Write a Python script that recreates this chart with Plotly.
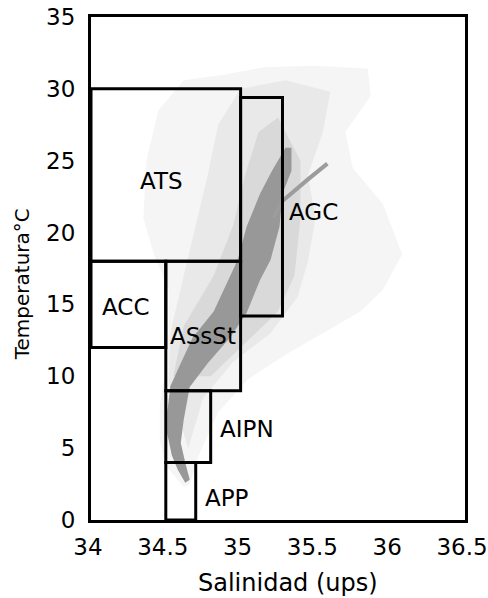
import plotly.graph_objects as go

# Water-mass boxes in T-S space
masses = ["ATS", "AGC", "ACC", "ASsSt", "AIPN", "APP"]
s_min = [34.0, 35.0, 34.0, 34.5, 34.5, 34.5]
s_max = [35.0, 35.28, 34.5, 35.0, 34.8, 34.7]
t_min = [18.0, 14.2, 12.0, 9.0, 4.0, 0.0]
t_max = [30.0, 29.4, 18.0, 18.0, 9.0, 4.0]
label_s = [34.47, 35.49, 34.23, 34.75, 35.04, 34.91]
label_t = [23.6, 21.4, 14.8, 12.8, 6.3, 1.5]

# Observed T-S cloud: outer sparse envelope
haze_out_s = [34.62, 34.50, 34.46, 34.46, 34.50, 34.52, 34.52, 34.42, 34.35, 34.37, 34.45, 34.62,
              34.90, 35.15, 35.50, 35.85, 35.87, 35.70, 35.75, 35.95, 36.08, 35.95, 35.80, 35.55,
              35.30, 35.05, 34.85, 34.72, 34.66]
haze_out_t = [2.3, 3.8, 5.5, 8.0, 10.5, 13.0, 16.0, 18.5, 21.0, 25.0, 28.5, 30.6,
              31.0, 31.5, 31.6, 31.4, 29.5, 27.0, 24.5, 22.0, 18.5, 16.0, 14.5, 13.0,
              11.5, 9.8, 7.5, 4.5, 2.5]

# denser envelope around the main branch
haze_mid_s = [34.52, 34.53, 34.62, 34.70, 34.78, 34.85, 35.00, 35.30, 35.60, 35.55, 35.45,
              35.50, 35.45, 35.38, 35.20, 34.95, 34.75, 34.65]
haze_mid_t = [9.5, 13.0, 17.0, 20.5, 24.0, 27.5, 30.0, 30.6, 29.8, 27.0, 24.0,
              21.0, 18.0, 15.5, 13.0, 11.0, 8.5, 5.0]

haze_in_s = [34.55, 34.62, 34.82, 34.95, 35.03, 35.12, 35.25, 35.40, 35.40, 35.36, 35.25,
             35.00, 34.80]
haze_in_t = [10.0, 13.5, 17.0, 20.5, 24.0, 27.0, 28.0, 25.0, 21.0, 17.0, 14.5,
             12.0, 10.0]

# dense core of the T-S relation
core_s = [34.63, 34.58, 34.54, 34.51, 34.51, 34.52, 34.53, 34.60, 34.68, 34.82, 34.92, 34.98,
          35.04, 35.13, 35.21, 35.30,
          35.34, 35.34, 35.28, 35.26, 35.20, 35.13, 35.04, 34.93, 34.78, 34.66, 34.62, 34.60,
          34.63, 34.66]
core_t = [2.6, 3.5, 4.5, 6.0, 7.5, 8.5, 9.3, 10.9, 12.7, 14.5, 16.7, 18.1,
          20.4, 22.7, 24.3, 25.9,
          25.9, 24.3, 22.7, 20.4, 18.1, 16.7, 14.4, 12.7, 10.9, 9.25, 7.0, 5.35,
          4.0, 2.8]

# secondary saline branch
branch_s = [35.22, 35.28, 35.45, 35.58]
branch_t = [21.0, 22.2, 23.7, 24.8]

x_ticks = [34, 34.5, 35, 35.5, 36, 36.5]
x_tick_text = ["34", "34.5", "35", "35.5", "36", "36.5"]
y_ticks = [0, 5, 10, 15, 20, 25, 30, 35]

FONT = "DejaVu Sans"

fig = go.Figure()

for xs, ys, col in [(haze_out_s, haze_out_t, "#f5f5f5"),
                    (haze_mid_s, haze_mid_t, "#e9e9e9"),
                    (haze_in_s, haze_in_t, "#d9d9d9"),
                    (core_s, core_t, "#989898")]:
    fig.add_trace(go.Scatter(x=xs, y=ys, mode="lines", fill="toself",
                             fillcolor=col, line=dict(width=0, color=col),
                             hoverinfo="skip", showlegend=False))

fig.add_trace(go.Scatter(x=branch_s, y=branch_t, mode="lines",
                         line=dict(width=4, color="#9c9c9c"),
                         hoverinfo="skip", showlegend=False))

for i, name in enumerate(masses):
    fig.add_shape(type="rect", xref="x", yref="y",
                  x0=s_min[i], x1=s_max[i], y0=t_min[i], y1=t_max[i],
                  line=dict(color="black", width=3), layer="above")
    fig.add_annotation(x=label_s[i], y=label_t[i], text=name, showarrow=False,
                       font=dict(family=FONT, size=23, color="black"),
                       xanchor="center", yanchor="middle")

fig.add_annotation(xref="paper", yref="paper", x=0.527, y=-0.125,
                   text="Salinidad (ups)", showarrow=False,
                   font=dict(family=FONT, size=24, color="black"),
                   xanchor="center", yanchor="middle")
fig.add_annotation(xref="paper", yref="paper", x=-0.184, y=0.469,
                   text="Temperatura°C", showarrow=False, textangle=-90,
                   font=dict(family=FONT, size=20, color="black"),
                   xanchor="center", yanchor="middle")

axis_common = dict(showgrid=False, zeroline=False, showline=True, linecolor="black",
                   linewidth=3, mirror=True, ticks="", automargin=False,
                   tickfont=dict(family=FONT, size=23, color="black"))

fig.update_xaxes(range=[34, 36.5], tickvals=x_ticks, ticktext=x_tick_text,
                 ticklabelstandoff=4, ticklabelshift=-3, ticklabeloverflow="allow",
                 **axis_common)
fig.update_yaxes(range=[0, 35], tickvals=y_ticks, ticklabelstandoff=8, **axis_common)

fig.update_layout(width=488, height=598, plot_bgcolor="white", paper_bgcolor="white",
                  margin=dict(l=91, r=23, t=17, b=78), showlegend=False)

fig.write_html("out.html")
